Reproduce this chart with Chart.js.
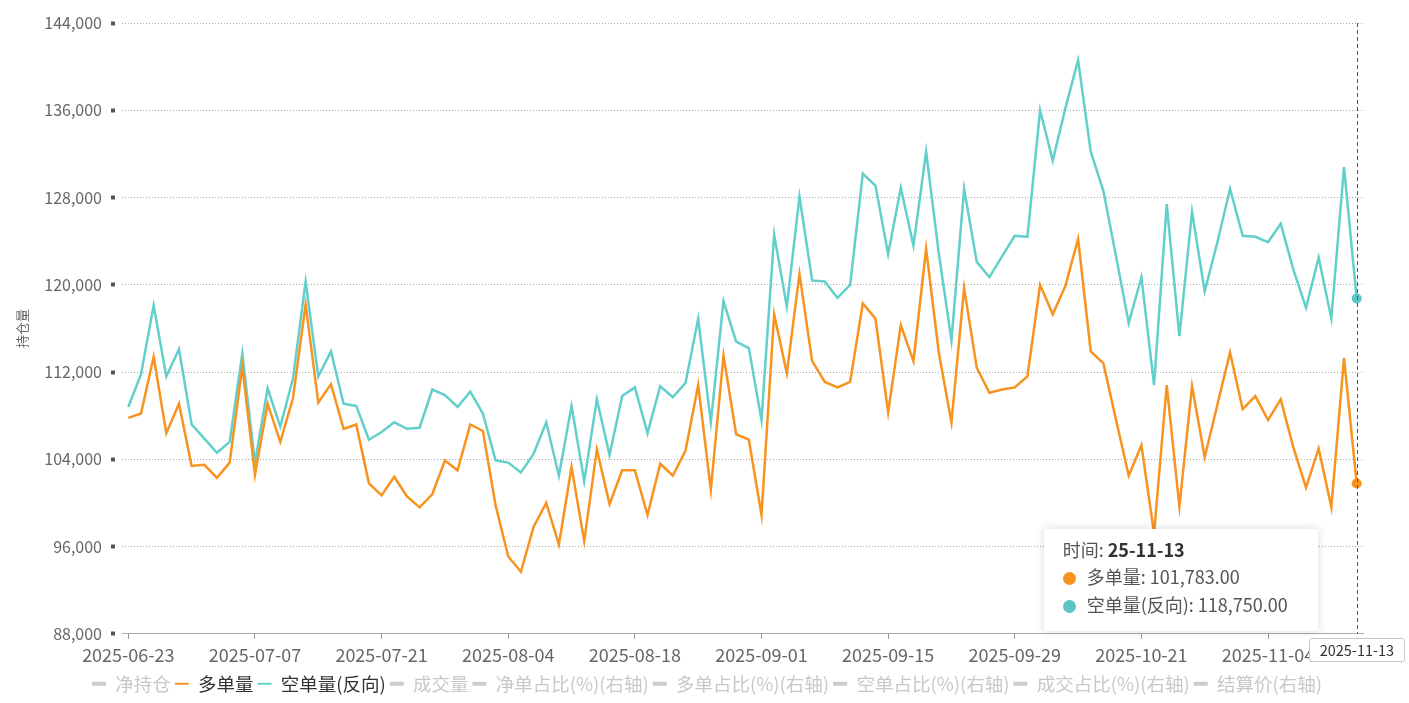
<!DOCTYPE html>
<html>
<head>
<meta charset="utf-8">
<script src="https://cdn.jsdelivr.net/npm/chart.js@4.4.1/dist/chart.umd.min.js"></script>
<style>
  body { margin: 0; background: #fff; font-family: 'Noto Sans CJK SC', 'Noto Sans', sans-serif; }
  #wrap { position: relative; width: 1409px; height: 703px; }
  #tip {
    position: absolute; background: #fff; border-radius: 4px;
    box-shadow: 0 0 10px rgba(0, 0, 0, 0.16);
    padding: 7px 30px 13px 19px; font-size: 18px; color: #555;
    line-height: 27.5px; white-space: nowrap;
  }
  #tip b { color: #333; }
  #tip .dot { display: inline-block; width: 13px; height: 13px; border-radius: 50%; margin-right: 11px; vertical-align: -1px; }
  #ptr {
    position: absolute; border: 1px solid #c8c8c8; border-radius: 3px; background: #fff;
    font-size: 14.5px; color: #333; padding: 0 10px; line-height: 22px; white-space: nowrap;
  }
</style>
</head>
<body>
<div id="wrap">
  <canvas id="chart"></canvas>
  <div id="tip"></div>
  <div id="ptr"></div>
</div>
<script>
// 交易日
const dates = [
  '2025-06-23', '2025-06-24', '2025-06-25', '2025-06-26', '2025-06-27', '2025-06-30',
  '2025-07-01', '2025-07-02', '2025-07-03', '2025-07-04', '2025-07-07', '2025-07-08', '2025-07-09', '2025-07-10', '2025-07-11',
  '2025-07-14', '2025-07-15', '2025-07-16', '2025-07-17', '2025-07-18', '2025-07-21', '2025-07-22', '2025-07-23', '2025-07-24', '2025-07-25',
  '2025-07-28', '2025-07-29', '2025-07-30', '2025-07-31', '2025-08-01', '2025-08-04', '2025-08-05', '2025-08-06', '2025-08-07', '2025-08-08',
  '2025-08-11', '2025-08-12', '2025-08-13', '2025-08-14', '2025-08-15', '2025-08-18', '2025-08-19', '2025-08-20', '2025-08-21', '2025-08-22',
  '2025-08-25', '2025-08-26', '2025-08-27', '2025-08-28', '2025-08-29', '2025-09-01', '2025-09-02', '2025-09-03', '2025-09-04', '2025-09-05',
  '2025-09-08', '2025-09-09', '2025-09-10', '2025-09-11', '2025-09-12', '2025-09-15', '2025-09-16', '2025-09-17', '2025-09-18', '2025-09-19',
  '2025-09-22', '2025-09-23', '2025-09-24', '2025-09-25', '2025-09-26', '2025-09-29', '2025-09-30', '2025-10-09', '2025-10-10',
  '2025-10-13', '2025-10-14', '2025-10-15', '2025-10-16', '2025-10-17', '2025-10-20', '2025-10-21', '2025-10-22', '2025-10-23', '2025-10-24',
  '2025-10-27', '2025-10-28', '2025-10-29', '2025-10-30', '2025-10-31', '2025-11-03', '2025-11-04', '2025-11-05', '2025-11-06', '2025-11-07',
  '2025-11-10', '2025-11-11', '2025-11-12', '2025-11-13'
];

// 多单量
const longs = [
  107800, 108200, 113400, 106400, 109100, 103400, 103500, 102300, 103700, 112500,
  102600, 109100, 105600, 109600, 118200, 109200, 110900, 106800, 107200, 101800,
  100700, 102400, 100600, 99600, 100800, 103900, 103000, 107200, 106600, 99800,
  95100, 93700, 97800, 100000, 96200, 103300, 96500, 104900, 99900, 103000,
  103000, 98900, 103600, 102500, 104800, 110800, 101200, 113500, 106300, 105800,
  98900, 117300, 111900, 121000, 113000, 111100, 110600, 111100, 118300, 116900,
  108300, 116300, 113000, 123300, 113800, 107400, 119700, 112400, 110100, 110400,
  110600, 111600, 120000, 117300, 119900, 124200, 113900, 112800, 107600, 102500,
  105300, 97200, 110800, 99700, 110700, 104200, 109000, 113800, 108600, 109800,
  107600, 109500, 105100, 101400, 105000, 99600, 113300, 101783
];

// 空单量(反向)
const shorts = [
  108800, 111800, 118100, 111600, 114100, 107200, 105900, 104600, 105600, 113700,
  103700, 110500, 107000, 111400, 120300, 111600, 113900, 109100, 108900, 105800,
  106500, 107400, 106800, 106900, 110400, 109900, 108800, 110200, 108200, 103900,
  103700, 102800, 104500, 107400, 102500, 108900, 102000, 109500, 104400, 109800,
  110600, 106400, 110700, 109700, 111000, 116900, 107400, 118500, 114800, 114200,
  107600, 124600, 118000, 128100, 120400, 120300, 118800, 120000, 130200, 129100,
  122800, 128900, 123600, 132200, 122900, 114900, 128800, 122100, 120700, 122600,
  124500, 124400, 136000, 131400, 136200, 140600, 132200, 128600, 122600, 116500,
  120700, 110800, 127400, 115300, 126700, 119400, 123900, 128800, 124500, 124400,
  123900, 125600, 121400, 117900, 122500, 116900, 130800, 118750
];

const offSeries = ['净持仓', '成交量', '净单占比(%)(右轴)', '多单占比(%)(右轴)', '空单占比(%)(右轴)', '成交占比(%)(右轴)', '结算价(右轴)'];
const yMin = 88000, yMax = 144000, yStep = 8000;

const orange = '#f7931e';
const teal = '#62cfcb';
const last = dates.length - 1;

Chart.defaults.font.family = "'Noto Sans CJK SC', 'Noto Sans', sans-serif";

function offSet(label) {
  return { label: label, data: [], hidden: true, borderColor: '#cccccc', legendLine: 4 };
}

const fmt = v => v.toLocaleString('en-US', { minimumFractionDigits: 2, maximumFractionDigits: 2 });

// 十字线 + 提示框
const pointerPlugin = {
  id: 'pointer',
  afterDraw(chart) {
    const ctx = chart.ctx;
    const area = chart.chartArea;
    const px = chart.scales.x.getPixelForValue(last);
    ctx.save();
    ctx.strokeStyle = '#555';
    ctx.lineWidth = 1;
    ctx.setLineDash([4, 3]);
    ctx.beginPath();
    ctx.moveTo(Math.round(px) + 0.5, area.top);
    ctx.lineTo(Math.round(px) + 0.5, area.bottom);
    ctx.stroke();
    ctx.restore();

    const tip = document.getElementById('tip');
    tip.innerHTML = '时间: <b>' + dates[last].slice(2) + '</b><br>' +
      '<span class="dot" style="background:' + orange + '"></span>多单量: ' + fmt(longs[last]) + '<br>' +
      '<span class="dot" style="background:#5bc4c4"></span>空单量(反向): ' + fmt(shorts[last]);
    tip.style.left = (px - 39 - tip.offsetWidth) + 'px';
    tip.style.top = (area.bottom - 2 - tip.offsetHeight) + 'px';

    const ptr = document.getElementById('ptr');
    ptr.textContent = dates[last];
    ptr.style.left = (px - ptr.offsetWidth / 2) + 'px';
    ptr.style.top = (area.bottom + 4) + 'px';
  }
};

const ctx = document.getElementById('chart').getContext('2d');
const chart = new Chart(ctx, {
  type: 'line',
  data: {
    labels: dates,
    datasets: [
      offSet(offSeries[0]),
      {
        label: '多单量', data: longs, borderColor: orange, backgroundColor: orange,
        borderWidth: 2.5, tension: 0, legendLine: 2,
        pointRadius: c => c.dataIndex === last ? 5 : 0, pointBorderWidth: 0
      },
      {
        label: '空单量(反向)', data: shorts, borderColor: teal, backgroundColor: '#5bc4c4',
        borderWidth: 2.5, tension: 0, legendLine: 2,
        pointRadius: c => c.dataIndex === last ? 5 : 0, pointBorderWidth: 0
      },
      offSet(offSeries[1]),
      offSet(offSeries[2]),
      offSet(offSeries[3]),
      offSet(offSeries[4]),
      offSet(offSeries[5]),
      offSet(offSeries[6])
    ]
  },
  options: {
    responsive: true,
    maintainAspectRatio: false,
    animation: false,
    events: [],
    layout: { padding: { top: 23, right: 0, left: 5, bottom: 0 } },
    scales: {
      x: {
        offset: true,
        grid: {
          drawOnChartArea: false, drawTicks: true, tickLength: 5,
          tickColor: c => c.index % 10 === 0 ? '#999' : 'rgba(0,0,0,0)'
        },
        border: { display: true, color: '#aaa', width: 1 },
        ticks: {
          autoSkip: false, maxRotation: 0, padding: 5,
          color: '#666', font: { size: 18 },
          callback: (v, i) => i % 10 === 0 ? dates[i] : ''
        }
      },
      y: {
        min: yMin, max: yMax,
        afterFit: s => { s.width = 117; },
        grid: {
          color: '#aaa', lineWidth: 1,
          tickLength: 11, tickWidth: 4, tickColor: '#555', tickBorderDash: [4, 20]
        },
        border: { display: false, dash: [1, 2] },
        ticks: {
          stepSize: yStep, padding: 9, color: '#666', font: { size: 16 },
          callback: v => v.toLocaleString('en-US')
        },
        title: { display: true, text: '持仓量', color: '#666', font: { size: 13 }, padding: { top: 9, bottom: 0 } }
      },
      // 右侧留白
      yRight: {
        position: 'right',
        afterFit: s => { s.width = 46; },
        grid: { display: false },
        border: { display: false },
        ticks: { display: false }
      }
    },
    plugins: {
      tooltip: { enabled: false },
      legend: {
        position: 'bottom',
        onClick: null,
        labels: {
          usePointStyle: true, pointStyleWidth: 14, padding: 4,
          font: { size: 18.5 },
          generateLabels: ch => ch.data.datasets.map((ds, i) => ({
            text: ds.label,
            fillStyle: ds.borderColor,
            strokeStyle: ds.borderColor,
            lineWidth: ds.legendLine,
            pointStyle: 'line',
            hidden: false,
            fontColor: ds.data.length ? '#333' : '#c8c8c8',
            datasetIndex: i
          }))
        }
      }
    }
  },
  plugins: [pointerPlugin]
});
</script>
</body>
</html>
